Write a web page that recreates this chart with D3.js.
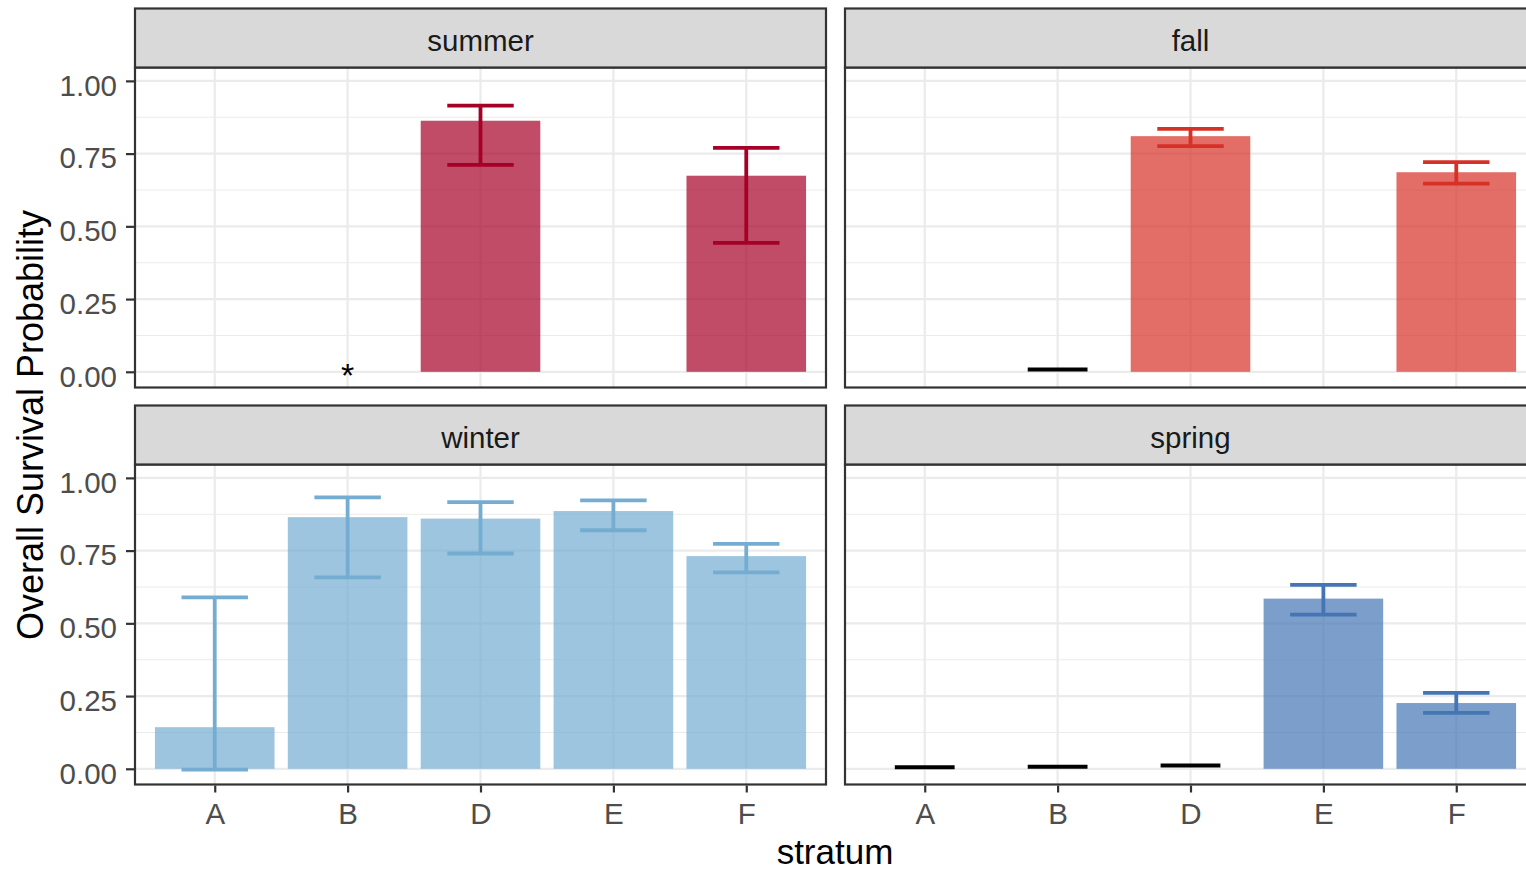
<!DOCTYPE html>
<html>
<head>
<meta charset="utf-8">
<script src="https://cdn.jsdelivr.net/npm/d3@7"></script>
<style>
  html, body { margin: 0; padding: 0; background: #ffffff; }
  svg { display: block; font-family: "Liberation Sans", Arial, sans-serif; }
</style>
</head>
<body>
<svg id="chart" width="1526" height="872"></svg>
<script>
// Survival estimates by stratum, faceted by season
const strata = ["A", "B", "D", "E", "F"];
const seasons = ["summer", "fall", "winter", "spring"];
const seasonColors = ["#A50026", "#D73027", "#74ADD1", "#4575B4"];
const yTicks = [0, 0.25, 0.5, 0.75, 1];
const yMinorTicks = [0.125, 0.375, 0.625, 0.875];

// point estimates (null = no estimate)
const summerEst = [null, null, 0.863, null, 0.674];
const summerLo  = [null, null, 0.711, null, 0.443];
const summerHi  = [null, null, 0.915, null, 0.770];

const fallEst = [null, null, 0.810, null, 0.686];
const fallLo  = [null, null, 0.776, null, 0.647];
const fallHi  = [null, null, 0.835, null, 0.721];

const winterEst = [0.143, 0.865, 0.860, 0.886, 0.731];
const winterLo  = [-0.003, 0.658, 0.740, 0.820, 0.675];
const winterHi  = [0.589, 0.933, 0.917, 0.923, 0.773];

const springEst = [null, null, null, 0.585, 0.226];
const springLo  = [null, null, null, 0.530, 0.192];
const springHi  = [null, null, null, 0.632, 0.261];

// near-zero estimates drawn as short black dashes
const summerZero = [null, null, null, null, null];
const fallZero   = [null, 0.008, null, null, null];
const winterZero = [null, null, null, null, null];
const springZero = [0.005, 0.007, 0.011, null, null];

// flagged strata (annotation at y = 0)
const summerFlag = [null, "*", null, null, null];
const fallFlag   = [null, null, null, null, null];
const winterFlag = [null, null, null, null, null];
const springFlag = [null, null, null, null, null];

const panelData = [
  { est: summerEst, lo: summerLo, hi: summerHi, zero: summerZero, flag: summerFlag },
  { est: fallEst,   lo: fallLo,   hi: fallHi,   zero: fallZero,   flag: fallFlag },
  { est: winterEst, lo: winterLo, hi: winterHi, zero: winterZero, flag: winterFlag },
  { est: springEst, lo: springLo, hi: springHi, zero: springZero, flag: springFlag }
];

// layout
const svg = d3.select("#chart");
svg.append("rect").attr("width", 1526).attr("height", 872).attr("fill", "#ffffff");

const colX = [135, 845];
const panelW = 691;
const rowStep = 397;
const stripTop = 8.5, stripH = 59;
const panelTop0 = 67.5, panelH = 320;

const grey20 = "#333333", grey30 = "#4d4d4d", grey92 = "#ebebeb";
const labelSize = 29.5;

seasons.forEach((season, i) => {
  const col = i % 2, row = Math.floor(i / 2);
  const x0 = colX[col];
  const sTop = stripTop + row * rowStep;
  const pTop = panelTop0 + row * rowStep;
  const d = panelData[i];
  const color = seasonColors[i];

  const x = d3.scalePoint().domain(strata).range([x0, x0 + panelW]).padding(0.6);
  const step = x.step();
  const y = d3.scaleLinear().domain([-0.054, 1.046]).range([pTop + panelH, pTop]);

  const g = svg.append("g");

  // panel background
  g.append("rect").attr("x", x0).attr("y", pTop).attr("width", panelW).attr("height", panelH)
    .attr("fill", "#ffffff");

  // grid
  g.selectAll(".minor").data(yMinorTicks).join("line")
    .attr("x1", x0).attr("x2", x0 + panelW)
    .attr("y1", v => y(v)).attr("y2", v => y(v))
    .attr("stroke", grey92).attr("stroke-width", 1.1);
  g.selectAll(".major").data(yTicks).join("line")
    .attr("x1", x0).attr("x2", x0 + panelW)
    .attr("y1", v => y(v)).attr("y2", v => y(v))
    .attr("stroke", grey92).attr("stroke-width", 2.2);
  g.selectAll(".vgrid").data(strata).join("line")
    .attr("x1", s => x(s)).attr("x2", s => x(s))
    .attr("y1", pTop).attr("y2", pTop + panelH)
    .attr("stroke", grey92).attr("stroke-width", 2.2);

  const rows = strata.map((s, k) => ({ s, est: d.est[k], lo: d.lo[k], hi: d.hi[k], zero: d.zero[k], flag: d.flag[k] }));

  // bars
  g.selectAll(".bar").data(rows.filter(r => r.est !== null)).join("rect")
    .attr("x", r => x(r.s) - 0.45 * step)
    .attr("width", 0.9 * step)
    .attr("y", r => y(r.est))
    .attr("height", r => y(0) - y(r.est))
    .attr("fill", color).attr("fill-opacity", 0.7);

  // error bars
  const eb = rows.filter(r => r.lo !== null && r.hi !== null);
  const ebw = 0.25 * step;
  g.selectAll(".ebv").data(eb).join("line")
    .attr("x1", r => x(r.s)).attr("x2", r => x(r.s))
    .attr("y1", r => y(r.lo)).attr("y2", r => y(r.hi))
    .attr("stroke", color).attr("stroke-width", 3.8);
  g.selectAll(".ebhi").data(eb).join("line")
    .attr("x1", r => x(r.s) - ebw).attr("x2", r => x(r.s) + ebw)
    .attr("y1", r => y(r.hi)).attr("y2", r => y(r.hi))
    .attr("stroke", color).attr("stroke-width", 3.8);
  g.selectAll(".eblo").data(eb).join("line")
    .attr("x1", r => x(r.s) - ebw).attr("x2", r => x(r.s) + ebw)
    .attr("y1", r => y(r.lo)).attr("y2", r => y(r.lo))
    .attr("stroke", color).attr("stroke-width", 3.8);

  // near-zero estimates
  g.selectAll(".zero").data(rows.filter(r => r.zero !== null)).join("line")
    .attr("x1", r => x(r.s) - 0.225 * step).attr("x2", r => x(r.s) + 0.225 * step)
    .attr("y1", r => y(r.zero)).attr("y2", r => y(r.zero))
    .attr("stroke", "#000000").attr("stroke-width", 4);

  // flags
  g.selectAll(".flag").data(rows.filter(r => r.flag !== null)).join("text")
    .attr("x", r => x(r.s)).attr("y", y(0) + 15)
    .attr("text-anchor", "middle").attr("font-size", 34).attr("fill", "#000000")
    .text(r => r.flag);

  // panel border
  g.append("rect").attr("x", x0).attr("y", pTop).attr("width", panelW).attr("height", panelH)
    .attr("fill", "none").attr("stroke", grey20).attr("stroke-width", 2.2);

  // strip
  g.append("rect").attr("x", x0).attr("y", sTop).attr("width", panelW).attr("height", stripH)
    .attr("fill", "#d9d9d9").attr("stroke", grey20).attr("stroke-width", 2.2);
  g.append("text").attr("x", x0 + panelW / 2).attr("y", sTop + stripH / 2 + 2.5)
    .attr("text-anchor", "middle").attr("dominant-baseline", "central")
    .attr("font-size", labelSize).attr("fill", "#1a1a1a").text(season);

  // y axis (left column)
  if (col === 0) {
    const ya = g.append("g").attr("transform", `translate(${x0 - 1},0)`)
      .call(d3.axisLeft(y).tickValues(yTicks).tickFormat(d3.format(".2f")).tickSize(8).tickPadding(9));
    ya.select(".domain").remove();
    ya.selectAll(".tick line").attr("stroke", grey20).attr("stroke-width", 2.2);
    ya.selectAll(".tick text").attr("fill", grey30).attr("font-size", labelSize)
      .attr("font-family", "Liberation Sans, Arial, sans-serif").attr("dy", "0.35em")
      .attr("y", 4);
  }
  // x axis (bottom row)
  if (row === 1) {
    const xa = g.append("g").attr("transform", `translate(0,${pTop + panelH + 1})`)
      .call(d3.axisBottom(x).tickSize(7).tickPadding(11));
    xa.select(".domain").remove();
    xa.selectAll(".tick line").attr("stroke", grey20).attr("stroke-width", 2.2);
    xa.selectAll(".tick text").attr("fill", grey30).attr("font-size", labelSize)
      .attr("font-family", "Liberation Sans, Arial, sans-serif");
  }
});

// axis titles
svg.append("text").attr("x", 835).attr("y", 864)
  .attr("text-anchor", "middle").attr("font-size", 35).attr("fill", "#000000")
  .text("stratum");
svg.append("text").attr("transform", "translate(43,425) rotate(-90)")
  .attr("text-anchor", "middle").attr("font-size", 36).attr("fill", "#000000")
  .text("Overall Survival Probability");
</script>
</body>
</html>
